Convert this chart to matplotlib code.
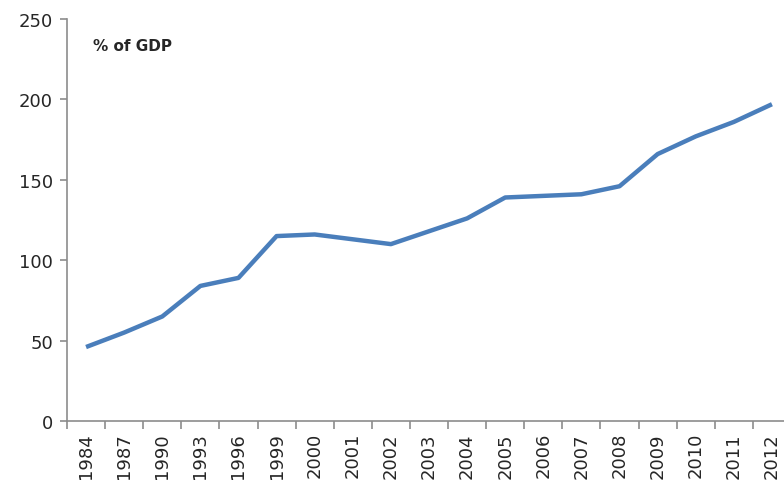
import matplotlib
matplotlib.use("Agg")
import matplotlib.pyplot as plt
from matplotlib.ticker import FixedLocator, NullFormatter
from matplotlib.transforms import Affine2D
import numpy as np

years = ["1984", "1987", "1990", "1993", "1996", "1999", "2000", "2001", "2002",
         "2003", "2004", "2005", "2006", "2007", "2008", "2009", "2010", "2011", "2012"]
debt_pct_gdp = [46, 55, 65, 84, 89, 115, 116, 113, 110, 118, 126, 139, 140, 141,
                146, 166, 177, 186, 197]
y_ticks = [0, 50, 100, 150, 200, 250]

W, H = 784, 481
fig = plt.figure(figsize=(W / 100, H / 100), dpi=100)
ax = fig.add_axes([67 / W, 1 - 422 / H, (791 - 67) / W, 402 / H])

x = np.arange(len(years))
ax.plot(x, debt_pct_gdp, color="#4a7ebb", linewidth=3.2, solid_capstyle="butt",
        solid_joinstyle="round")

ax.set_xlim(-0.5, len(years) - 0.5)
ax.set_ylim(0, 250)

gray = "#8c8c8c"
for side in ("top", "right"):
    ax.spines[side].set_visible(False)
for side in ("left", "bottom"):
    ax.spines[side].set_color(gray)
    ax.spines[side].set_linewidth(1.2)

ax.set_yticks(y_ticks)
ax.set_yticklabels([str(v) for v in y_ticks])
ax.tick_params(axis="y", direction="out", length=5, width=1.2, color=gray,
               pad=5, labelsize=13, labelcolor="#262626")

# category labels sit between the tick marks
ax.set_xticks(x)
ax.set_xticklabels(years, rotation=90)
ax.tick_params(axis="x", which="major", length=0, pad=8, labelsize=13,
               labelcolor="#262626")
ax.xaxis.set_minor_locator(FixedLocator(np.arange(-0.5, len(years), 1.0)))
ax.xaxis.set_minor_formatter(NullFormatter())
ax.tick_params(axis="x", which="minor", direction="out", length=6, width=1.2,
               color=gray)

# unit label placed in pixel coordinates measured from the top-left corner
ax.text(93, 47, "% of GDP", fontsize=11, fontweight="bold",
        color="#262626", va="center", ha="left",
        transform=Affine2D().scale(1, -1).translate(0, H))

fig.savefig("out.png", dpi=100)
